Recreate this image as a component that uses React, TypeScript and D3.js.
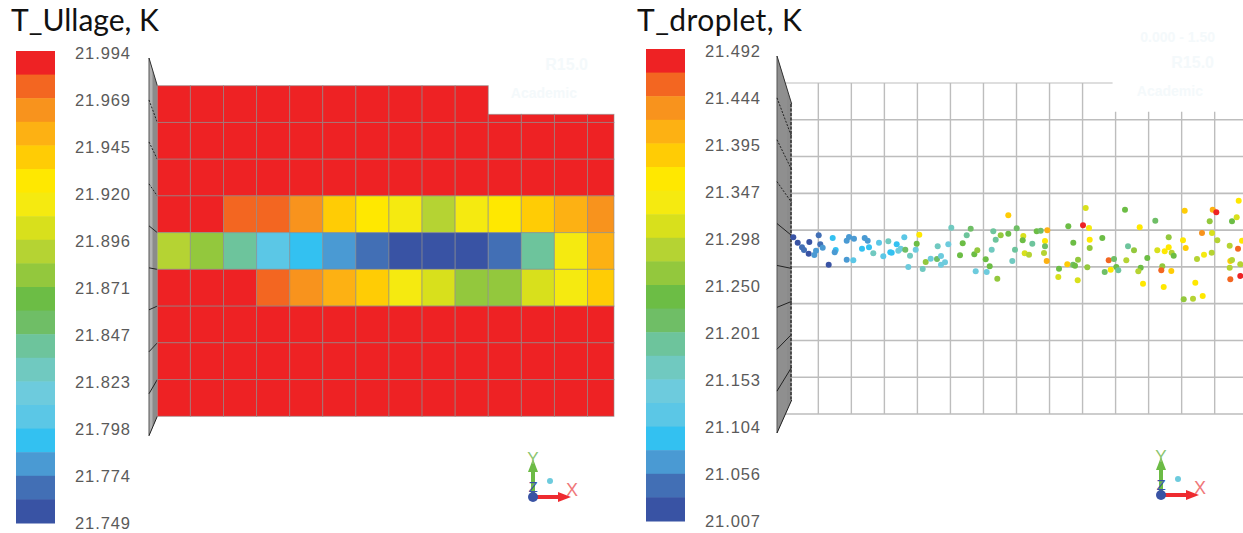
import React from "react";
import * as d3 from "d3";

// colour bands, top of legend (hottest) to bottom
const bandColors = [
  "#ee2224", "#f36621", "#f8931d", "#fdb113", "#ffcc05",
  "#ffe800", "#f5ea10", "#d8e01c", "#b5d333", "#93c83d",
  "#6cbd45", "#6fbe66", "#6dc49c", "#70c9c0", "#6dcbdd",
  "#5bc7e6", "#33c1f1", "#4a9ad3", "#426fb5", "#3953a4",
];

const ullageTicks = ["21.994", "21.969", "21.945", "21.920", "21.896", "21.871", "21.847", "21.823", "21.798", "21.774", "21.749"];
const dropletTicks = ["21.492", "21.444", "21.395", "21.347", "21.298", "21.250", "21.201", "21.153", "21.104", "21.056", "21.007"];

const ullageDomain: [number, number] = [21.749, 21.994];
const dropletDomain: [number, number] = [21.007, 21.492];

const HOT = 21.988;
// ullage temperature per cell, rows top to bottom, 14 columns
const ullageRows = [
  [HOT, HOT, HOT, HOT, HOT, HOT, HOT, HOT, HOT, HOT, HOT, HOT, HOT, HOT],
  [HOT, HOT, HOT, HOT, HOT, HOT, HOT, HOT, HOT, HOT, HOT, HOT, HOT, HOT],
  [HOT, HOT, HOT, HOT, HOT, HOT, HOT, HOT, HOT, HOT, HOT, HOT, HOT, HOT],
  [HOT, HOT, 21.976, 21.976, 21.963, 21.939, 21.927, 21.914, 21.89, 21.914, 21.927, 21.939, 21.951, 21.963],
  [21.89, 21.878, 21.841, 21.804, 21.792, 21.78, 21.767, 21.755, 21.755, 21.755, 21.767, 21.841, 21.914, 21.951],
  [HOT, HOT, HOT, 21.976, 21.963, 21.951, 21.939, 21.914, 21.902, 21.878, 21.878, 21.902, 21.914, 21.939],
  [HOT, HOT, HOT, HOT, HOT, HOT, HOT, HOT, HOT, HOT, HOT, HOT, HOT, HOT],
  [HOT, HOT, HOT, HOT, HOT, HOT, HOT, HOT, HOT, HOT, HOT, HOT, HOT, HOT],
  [HOT, HOT, HOT, HOT, HOT, HOT, HOT, HOT, HOT, HOT, HOT, HOT, HOT, HOT],
];

// droplets: [axial position, height, temperature]
const dropletsNear: [number, number, number][] = [
  [6.3, 176.7, 21.019], [10.7, 171.3, 21.019], [15, 166.7, 21.044], [17, 164, 21.044],
  [22.3, 172, 21.019], [21.7, 160.3, 21.019], [27.3, 159, 21.068], [29, 163.3, 21.068],
  [31.7, 178.7, 21.044], [33.3, 169.7, 21.044], [35.7, 166.3, 21.068], [41.7, 149.3, 21.019],
  [45.7, 176, 21.092], [48.7, 164, 21.092], [47.7, 161.7, 21.068], [59.7, 154.3, 21.068],
  [66.3, 153.7, 21.116], [59.7, 173.3, 21.068], [62, 177, 21.068], [67, 175.3, 21.068],
  [77.7, 176, 21.068], [80.7, 173.3, 21.068], [75, 165.3, 21.092], [82, 166.7, 21.092],
  [86.3, 160.7, 21.165], [92, 171.3, 21.116], [96.3, 157.7, 21.116], [101.3, 172.7, 21.165],
  [103.3, 161.7, 21.092], [104.7, 161.3, 21.092], [109.7, 169.7, 21.092], [111.3, 163.3, 21.141],
  [113.7, 165.3, 21.141], [117.3, 176.7, 21.116], [118.3, 164.3, 21.213], [123, 158.3, 21.165],
  [121.3, 147, 21.141], [128.7, 164.3, 21.141], [129.7, 170.3, 21.238], [132.3, 179.3, 21.359],
  [135.7, 145, 21.165], [138.7, 152, 21.262], [143.7, 155.3, 21.141], [150, 155, 21.213],
  [150.7, 167.7, 21.165], [154, 158, 21.141], [154, 149.3, 21.141], [158, 151.7, 21.141],
  [161.3, 169.7, 21.141], [164.3, 186.3, 21.165], [173, 158.7, 21.238], [175.7, 170.7, 21.238],
  [179.7, 178.7, 21.189], [183.7, 185.3, 21.213], [187.3, 159.7, 21.238], [190.3, 163.7, 21.262],
  [188.7, 142.7, 21.141], [199.7, 142, 21.141], [198.7, 154.7, 21.238], [202.7, 147.7, 21.238],
  [204.7, 164.3, 21.165], [206.3, 182.7, 21.189], [208.7, 174.3, 21.189], [210.3, 135.3, 21.262],
  [213.7, 178.7, 21.262], [221.3, 198.7, 21.383], [221.3, 180.3, 21.238], [225.3, 153, 21.165],
  [228, 164.3, 21.189], [229.7, 185.7, 21.213],
];

const dropletsFar: [number, number, number][] = [
  [236.3, 178, 21.31], [235.7, 173.7, 21.238], [249.7, 182.7, 21.238], [253.7, 183.3, 21.213],
  [260.3, 183.7, 21.407], [245.3, 170.3, 21.189], [258, 173, 21.359], [258, 167.7, 21.213],
  [237.7, 160.7, 21.31], [242, 159.3, 21.286], [257, 161, 21.286], [259.7, 153, 21.407],
  [298.7, 206, 21.31], [338, 204.3, 21.238], [281.3, 187.7, 21.238], [296, 188.7, 21.48],
  [302, 186, 21.335], [302.7, 174.3, 21.359], [286.3, 171.3, 21.238], [302.7, 166, 21.262],
  [315.3, 176, 21.238], [291, 154.3, 21.262], [286, 149.3, 21.213], [288, 148.3, 21.238],
  [280.3, 149.7, 21.383], [272, 145.3, 21.238], [300.3, 146.7, 21.262], [271.3, 137, 21.31],
  [290.7, 133.7, 21.31], [321.7, 153.7, 21.456], [327, 155, 21.213], [329.3, 147, 21.238],
  [331.3, 143.7, 21.189], [323.7, 144.3, 21.359], [317.7, 142, 21.213], [341, 167.7, 21.189],
  [347, 163.7, 21.262], [339.3, 153.7, 21.286], [360.3, 156, 21.238], [353.7, 146.3, 21.238],
  [351.3, 142.7, 21.286], [352.7, 186.7, 21.359], [356, 130.3, 21.359], [368.3, 193.3, 21.213],
  [370.3, 163.7, 21.31], [381.7, 176.7, 21.262], [381.7, 166.7, 21.359], [377.7, 162.7, 21.359],
  [384.7, 161.3, 21.286], [386.7, 158.3, 21.238], [375.3, 147.7, 21.262], [374.3, 143.7, 21.456],
  [384.3, 143, 21.383], [376.7, 127, 21.359], [397.7, 203.3, 21.383], [396, 173.7, 21.359],
  [398.7, 166, 21.383], [410, 155, 21.286], [417, 159.3, 21.335], [424.7, 161.3, 21.286],
  [415, 181, 21.432], [425, 181, 21.31], [422.7, 192.7, 21.262], [425.7, 204.3, 21.407],
  [429.3, 201.7, 21.48], [430.3, 173.7, 21.286], [408.3, 131.3, 21.359], [396.7, 114.7, 21.262],
  [406, 115.3, 21.286], [415.7, 118, 21.359], [442.7, 168.3, 21.286], [445, 192.7, 21.238],
  [449.7, 196.7, 21.31], [451.7, 213.3, 21.359], [451, 165.3, 21.456], [443.3, 153, 21.383],
  [445, 154, 21.286], [442.7, 146.3, 21.286], [443.3, 134.7, 21.456], [453.3, 138, 21.48],
  [453.3, 149.7, 21.286], [455, 173.3, 21.359],
];

const ROWS = 9;
const COLS = 13.8; // the last column is cut off by the domain edge
const NOTCH_COL = 10; // columns from here on start lower in the top row
const NOTCH_ROW = 0.78;

const tempScale = (domain: [number, number]) =>
  d3.scaleQuantize<string>().domain(domain).range([...bandColors].reverse());

const Legend = ({ x, top, ticks, labelX }: { x: number; top: number; ticks: string[]; labelX: number }) => {
  const band = d3.scaleBand().domain(bandColors).range([top, top + 472]);
  const tick = d3.scalePoint().domain(ticks).range([top + 2, top + 472]);
  return (
    <g>
      {bandColors.map((c) => (
        <rect key={c} x={x} y={band(c)} width={39} height={band.bandwidth() + 0.5} fill={c} />
      ))}
      {ticks.map((t) => (
        <text
          key={t}
          x={labelX}
          y={tick(t)}
          dy="0.36em"
          fontFamily="'Liberation Sans', sans-serif"
          fontSize={16.5}
          fill="#5a5a5a"
          textLength={55}
          lengthAdjust="spacing"
        >
          {t}
        </text>
      ))}
    </g>
  );
};

// grey side wall seen in perspective, ticks join the far edge to the near edge
const SideWall = ({ xFar, xNear, far, near, xMid, midFill }: any) => {
  const yFar = d3.scaleLinear().domain([0, ROWS]).range(far);
  const yNear = d3.scaleLinear().domain([0, ROWS]).range(near);
  const outline = d3.line()([
    [xFar, yFar(0)],
    [xNear, yNear(0)],
    [xNear, yNear(ROWS)],
    [xFar, yFar(ROWS)],
  ]) + "Z";
  const t = (xMid - xFar) / (xNear - xFar);
  const midTop = yFar(0) + (yNear(0) - yFar(0)) * t;
  const midBot = yFar(ROWS) + (yNear(ROWS) - yFar(ROWS)) * t;
  const inner = d3.line()([
    [xFar, yFar(0)],
    [xMid, midTop],
    [xMid, midBot],
    [xFar, yFar(ROWS)],
  ]) + "Z";
  return (
    <g>
      <path d={outline} fill="#8b8b8b" />
      <path d={inner} fill={midFill} />
      <line x1={xFar} x2={xFar} y1={yFar(0)} y2={yFar(ROWS)} stroke="#555" strokeWidth={1} />
      <line x1={xFar} x2={xNear} y1={yFar(0)} y2={yNear(0)} stroke="#333" strokeWidth={1} />
      {d3.range(1, ROWS + 1).map((r) => (
        <line
          key={r}
          x1={xFar}
          x2={xNear}
          y1={yFar(r)}
          y2={yNear(r)}
          stroke="#222"
          strokeWidth={1}
          strokeDasharray={r < 4 ? "2 1.5" : undefined}
        />
      ))}
    </g>
  );
};

const Watermark = ({ x, y }: { x: number; y: number }) => (
  <g fontFamily="'Liberation Sans', sans-serif" fontWeight="bold" fill="#f4f9fb" textAnchor="end">
    <text x={x} y={y} fontSize={16}>R15.0</text>
    <text x={x - 11} y={y + 28} fontSize={14}>Academic</text>
  </g>
);

const Triad = ({ x, y }: { x: number; y: number }) => (
  <g transform={`translate(${x},${y})`} fontFamily="'Liberation Sans', sans-serif">
    <line x1={0} y1={0} x2={0} y2={-28} stroke="#6cbb45" strokeWidth={4} />
    <path d="M0,-38L5,-25L-5,-25Z" fill="#6cbb45" />
    <line x1={0} y1={0} x2={28} y2={0} stroke="#ee2b30" strokeWidth={4} />
    <path d="M38,0L25,-5L25,5Z" fill="#ee2b30" />
    <circle r={5} fill="#3953a4" />
    <circle cx={17} cy={-16} r={3} fill="#6dcbdd" />
    <text x={0} y={-33} textAnchor="middle" fontSize={17} fill="#8cc56f">Y</text>
    <text x={39} y={-1} textAnchor="middle" fontSize={18} fill="#f0787a">X</text>
    <text x={0} y={-5} textAnchor="middle" fontSize={15} fill="#3953a4">Z</text>
  </g>
);

const UllagePanel = () => {
  const x = d3.scaleLinear().domain([0, COLS]).range([157.3, 614]);
  const y = d3.scaleLinear().domain([0, ROWS]).range([85.7, 416.3]);
  const color = tempScale(ullageDomain);
  return (
    <g>
      <text x={11} y={30.5} fontFamily="Lato, sans-serif" fontSize={30} fill="#111">T_Ullage, K</text>
      <Legend x={16} top={51} ticks={ullageTicks} labelX={75} />
      <Watermark x={588} y={70} />
      <SideWall xFar={149} xNear={157.3} far={[58, 435.7]} near={[85.7, 416.3]} xMid={152.5} midFill="#b2b2b2" />
      {ullageRows.map((row, r) =>
        row.map((v, c) => {
          const rowTop = r === 0 && c >= NOTCH_COL ? NOTCH_ROW : r;
          return (
            <rect
              key={`${r}-${c}`}
              x={x(c)}
              y={y(rowTop)}
              width={x(Math.min(c + 1, COLS)) - x(c)}
              height={y(r + 1) - y(rowTop)}
              fill={color(v)}
              stroke="#8a8a8a"
              strokeOpacity={0.6}
              strokeWidth={1}
            />
          );
        })
      )}
      <Triad x={533} y={497} />
    </g>
  );
};

const DropletPanel = () => {
  const gx = d3.scaleLinear().domain([0, COLS]).range([785.3, 1241.1]);
  const gy = d3.scaleLinear().domain([0, ROWS]).range([83, 414]);
  const px = d3.scaleLinear().domain([0, 456]).range([787, 1243]);
  const py = d3.scaleLinear().domain([0, 331]).range([414, 83]);
  const color = tempScale(dropletDomain);
  const gridColor = "#bdbdbd";
  return (
    <g>
      <text x={637} y={30.5} fontFamily="Lato, sans-serif" fontSize={30} fill="#111" textLength={165} lengthAdjust="spacing">T_droplet, K</text>
      <Legend x={646} top={49} ticks={dropletTicks} labelX={705} />
      <text x={1215} y={42} textAnchor="end" fontFamily="'Liberation Sans', sans-serif" fontWeight="bold" fontSize={14} fill="#f4f9fb">
        0.000 - 1.50
      </text>
      <Watermark x={1214} y={68} />
      {d3.range(0, ROWS + 1).map((r) => (
        <line
          key={r}
          x1={gx(0)}
          x2={r === 0 ? gx(NOTCH_COL) - 3 : 1243}
          y1={gy(r)}
          y2={gy(r)}
          stroke={gridColor}
          strokeWidth={r === 0 ? 1.2 : 1.6}
        />
      ))}
      {d3.range(1, 14).map((c) => (
        <line
          key={c}
          x1={gx(c)}
          x2={gx(c)}
          y1={gy(c >= NOTCH_COL ? NOTCH_ROW : 0)}
          y2={gy(ROWS)}
          stroke={gridColor}
          strokeWidth={1.4}
        />
      ))}
      <SideWall xFar={777} xNear={791.7} far={[56, 433]} near={[104, 400]} xMid={787} midFill="#8f8f8f" />
      <line x1={791} x2={791} y1={gy(0) + 21} y2={gy(ROWS) - 14} stroke="#333" strokeWidth={1.5} strokeDasharray="3 1.5" />
      {[...dropletsNear, ...dropletsFar].map(([a, h, t], i) => (
        <circle key={i} cx={px(a)} cy={py(h)} r={3} fill={color(t)} />
      ))}
      <Triad x={1161} y={495} />
    </g>
  );
};

const App = () => (
  <svg
    width={1243}
    height={533}
    viewBox="0 0 1243 533"
    style={{ position: "absolute", left: 0, top: 0, display: "block", background: "#fff" }}
  >
    <UllagePanel />
    <DropletPanel />
  </svg>
);

export default App;
